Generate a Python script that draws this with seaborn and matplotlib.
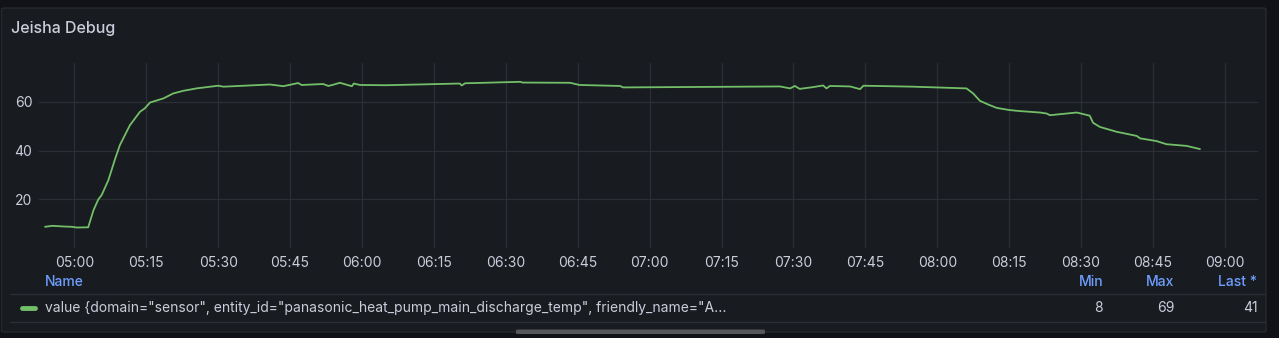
import matplotlib
matplotlib.use("Agg")
import matplotlib.pyplot as plt
import matplotlib.dates as mdates
from matplotlib.lines import Line2D
from matplotlib.patches import FancyBboxPatch
import seaborn as sns
import pandas as pd

# ---- data ----
times = ["04:53:54", "04:55:24", "04:58:00", "04:59:30", "05:00:30", "05:02:54", "05:04:00",
         "05:05:00", "05:05:42", "05:07:06", "05:08:30", "05:09:30", "05:11:36", "05:13:42",
         "05:14:42", "05:15:48", "05:18:36", "05:20:36", "05:22:42", "05:25:30", "05:30:00",
         "05:31:06", "05:40:48", "05:43:36", "05:46:42", "05:47:24", "05:51:54", "05:53:00",
         "05:54:00", "05:55:24", "05:57:00", "05:57:54", "05:58:18", "05:59:36", "06:05:00",
         "06:20:24", "06:20:48", "06:21:30", "06:33:00", "06:33:30", "06:43:24", "06:45:24",
         "06:53:48", "06:54:30", "07:27:12", "07:29:18", "07:30:18", "07:31:18", "07:34:00",
         "07:36:12", "07:36:54", "07:37:36", "07:41:48", "07:43:54", "07:44:36", "07:55:00",
         "08:06:06", "08:07:30", "08:08:54", "08:10:36", "08:12:24", "08:15:06", "08:17:12",
         "08:21:24", "08:22:48", "08:23:30", "08:29:06", "08:31:48", "08:32:30", "08:33:54",
         "08:37:24", "08:41:36", "08:42:18", "08:45:42", "08:47:48", "08:52:00", "08:54:48"]
values = [8.7, 9.1, 8.8, 8.7, 8.4, 8.5, 15.5,
          19.9, 21.7, 27.8, 36.5, 42.2, 50.4, 55.9,
          57.3, 59.7, 61.4, 63.4, 64.5, 65.5, 66.6,
          66.2, 67.1, 66.4, 67.7, 66.9, 67.3, 66.5,
          67.0, 67.8, 66.9, 66.4, 67.5, 66.9, 66.8,
          67.5, 66.7, 67.6, 68.2, 67.9, 67.8, 66.9,
          66.5, 65.9, 66.3, 65.5, 66.5, 65.3, 66.0,
          66.7, 65.5, 66.5, 66.3, 65.2, 66.6, 66.2,
          65.5, 63.4, 60.4, 58.9, 57.5, 56.6, 56.2,
          55.6, 55.2, 54.5, 55.6, 54.3, 51.4, 49.7,
          47.7, 46.0, 45.0, 43.9, 42.6, 41.9, 40.6]
x_tick_labels = ["05:00", "05:15", "05:30", "05:45", "06:00", "06:15", "06:30", "06:45", "07:00",
                 "07:15", "07:30", "07:45", "08:00", "08:15", "08:30", "08:45", "09:00"]
y_ticks = [20, 40, 60]
title = "Jeisha Debug"
series_name = 'value {domain="sensor", entity_id="panasonic_heat_pump_main_discharge_temp", friendly_name="A...'
stat_headers = ["Min", "Max", "Last *"]
stat_values = ["8", "69", "41"]

DAY = "2024-01-01 "
df = pd.DataFrame({"time": pd.to_datetime([DAY + t for t in times]), "value": values})

# ---- style ----
sns.set_theme(style="dark")
plt.rcParams["font.family"] = ["Inter", "DejaVu Sans"]

W, H = 1279, 338
OUTER = "#111217"
PANEL = "#181b1f"
GRID = "#2b2e34"
TEXT = "#ccccdc"
BLUE = "#6e9fff"
GREEN = "#73bf69"
FS = 10

fig = plt.figure(figsize=(W / 100, H / 100), dpi=100, facecolor=OUTER)

def fx(x):
    return x / W

def fy(y):
    return 1 - y / H

# panel
fig.patches.append(FancyBboxPatch((fx(1.5), fy(332)), fx(1266) - fx(1.5), fy(8) - fy(332),
                                  boxstyle="round,pad=0,rounding_size=0.003",
                                  transform=fig.transFigure, facecolor=PANEL,
                                  edgecolor="#26292e", linewidth=1, zorder=-5))

ax_l, ax_r, ax_t, ax_b = 39.3, 1258, 63.3, 248
ax = fig.add_axes([fx(ax_l), fy(ax_b), fx(ax_r) - fx(ax_l), fy(ax_t) - fy(ax_b)])
ax.set_zorder(2)
ax.set_facecolor(PANEL)
ax.patch.set_alpha(0)

sns.lineplot(data=df, x="time", y="value", ax=ax, color=GREEN, linewidth=1.3)

ax.set_xlim(pd.Timestamp(DAY + "04:52:42"), pd.Timestamp(DAY + "09:06:54"))
ax.set_ylim(0, 75.8)
xt = pd.to_datetime([DAY + s for s in x_tick_labels])
ax.set_xticks(xt)
ax.set_xticklabels(x_tick_labels)
ax.set_yticks(y_ticks)
ax.set_yticklabels([str(v) for v in y_ticks])
ax.tick_params(axis="x", length=0, pad=6, labelsize=FS, labelcolor=TEXT)
ax.tick_params(axis="y", length=0, pad=5, labelsize=FS, labelcolor=TEXT)
ax.grid(True, color=GRID, linewidth=0.9)
for s in ax.spines.values():
    s.set_visible(False)
ax.set_xlabel("")
ax.set_ylabel("")

# title
fig.text(fx(11), fy(28), title, color=TEXT, fontsize=11.5, fontweight="medium",
         va="center", ha="left")

# legend table
fig.text(fx(45), fy(282), "Name", color=BLUE, fontsize=FS, fontweight="medium",
         va="center", ha="left")
for xr, h in zip([1103, 1174.7, 1257], stat_headers):
    fig.text(fx(xr), fy(282), h, color=BLUE, fontsize=FS, fontweight="medium",
             va="center", ha="right")
for yl in [294, 321.5]:
    fig.add_artist(Line2D([fx(10), fx(1265)], [fy(yl), fy(yl)], color=GRID, linewidth=1,
                          transform=fig.transFigure))
fig.add_artist(Line2D([fx(21.5), fx(34.5)], [fy(308), fy(308)], color=GREEN, linewidth=3.5,
                      solid_capstyle="round", transform=fig.transFigure))
fig.text(fx(45), fy(308), series_name, color=TEXT, fontsize=FS, va="center", ha="left")
for xr, v in zip([1103, 1174.7, 1257.7], stat_values):
    fig.text(fx(xr), fy(308), v, color=TEXT, fontsize=FS, va="center", ha="right")

# scrollbar
fig.patches.append(FancyBboxPatch((fx(516), fy(334)), fx(765) - fx(516), fy(329.5) - fy(334),
                                  boxstyle="round,pad=0,rounding_size=0.002",
                                  transform=fig.transFigure, facecolor="#54565b",
                                  edgecolor="none", zorder=1))

fig.savefig("out.png", dpi=100, facecolor=OUTER)
